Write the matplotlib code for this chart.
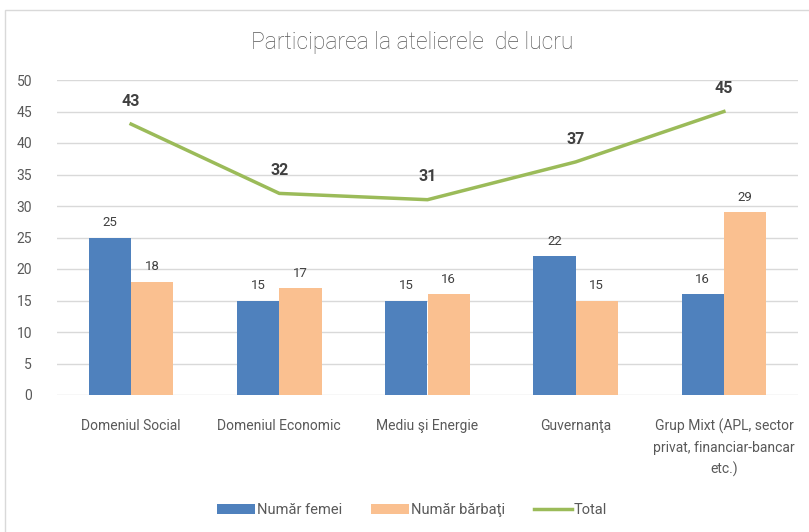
import numpy as np
import matplotlib.pyplot as plt
from matplotlib.patches import Rectangle

categories = ["Domeniul Social", "Domeniul Economic", "Mediu şi Energie", "Guvernanţa",
              "Grup Mixt (APL, sector\nprivat, financiar-bancar\netc.)"]
femei = [25, 15, 15, 22, 16]
barbati = [18, 17, 16, 15, 29]
total = [43, 32, 31, 37, 45]

plt.rcParams['font.family'] = ['Roboto', 'DejaVu Sans']
grey = '#595959'

fig = plt.figure(figsize=(8.09, 5.32), dpi=100)
ax = fig.add_axes([57/809, 1 - 395/532, (798-57)/809, (395-80)/532])

x = np.arange(len(categories))
w = 0.285
b1 = ax.bar(x - w/2, femei, w, color='#4F81BD', label='Număr femei', zorder=2)
b2 = ax.bar(x + w/2, barbati, w, color='#FAC090', label='Număr bărbaţi', zorder=2)
ln, = ax.plot(x, total, color='#9BBB59', lw=2.5, label='Total', zorder=3)

# etichete pe bare
for rect, v in zip(list(b1) + list(b2), femei + barbati):
    ax.annotate(str(v), (rect.get_x() + rect.get_width()/2, v), xytext=(0, 6),
                textcoords='offset points', ha='center', va='bottom', fontsize=9.5, color='#404040')
# etichete total
for xi, v in zip(x, total):
    ax.annotate(str(v), (xi, v), xytext=(0, 11), textcoords='offset points',
                ha='center', va='bottom', fontsize=11.5, fontweight='bold', color='#404040')

ax.set_xlim(-0.5, len(categories) - 0.5)
ax.set_ylim(0, 50)
ax.set_yticks(range(0, 51, 5))
ax.set_xticks(x)
ax.set_xticklabels(categories, fontsize=10, color=grey, linespacing=1.6)
ax.tick_params(axis='y', colors=grey, labelsize=10, length=0, pad=18)
ax.tick_params(axis='x', length=0, pad=17)
ax.yaxis.grid(True, color='#D9D9D9', lw=1)
ax.set_axisbelow(True)
for s in ax.spines.values():
    s.set_visible(False)

fig.text(412/809, 1 - 42/532, 'Participarea la atelierele  de lucru', ha='center', va='center',
         fontsize=16.5, color=grey, fontweight='light')

fig.legend(handles=[b1, b2, ln], loc='center', bbox_to_anchor=(412/809, 1 - 510/532),
           ncol=3, frameon=False, fontsize=10.5, labelcolor=grey, handlelength=2.6,
           handletextpad=0.1, columnspacing=2.0)

fig.patches.append(Rectangle((5/809, -0.1), 1.2, 1 - 10/532 + 0.1, transform=fig.transFigure,
                             fill=False, edgecolor='#D9D9D9', lw=1))

fig.savefig('out.png', dpi=100)
